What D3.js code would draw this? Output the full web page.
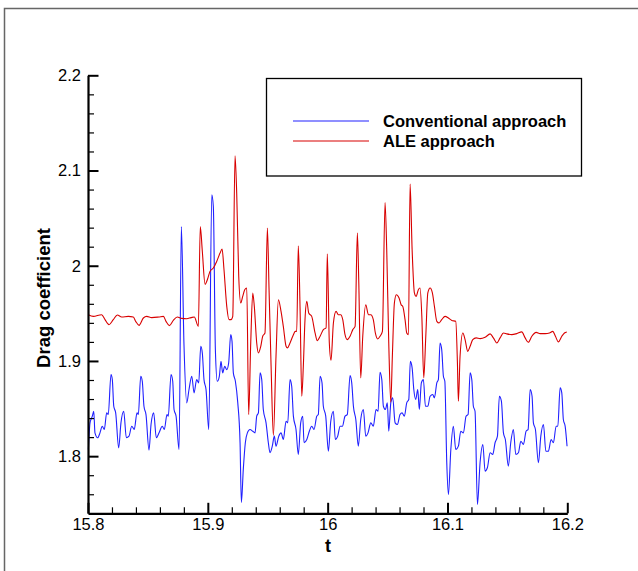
<!DOCTYPE html>
<html><head><meta charset="utf-8">
<script src="https://cdn.jsdelivr.net/npm/d3@7"></script>
<style>body{margin:0;background:#fff}svg{display:block}</style>
</head><body>
<script>
const seriesNames = ["Conventional approach", "ALE approach"];
const seriesColors = ["#2020ff", "#d80000"];
const xMajorTicks = [15.8, 15.9, 16.0, 16.1, 16.2];
const xTickLabels = ["15.8", "15.9", "16", "16.1", "16.2"];
const yMajorTicks = [1.8, 1.9, 2.0, 2.1, 2.2];
const yTickLabels = ["1.8", "1.9", "2", "2.1", "2.2"];
const xLabel = "t";
const yLabel = "Drag coefficient";

const convT = [15.8003,15.8017,15.8036,15.8048,15.8058,15.8081,15.8100,15.8119,15.8136,15.8156,15.8169,15.8192,15.8203,15.8215,15.8231,15.8256,15.8275,15.8298,15.8320,15.8342,15.8365,15.8386,15.8409,15.8420,15.8440,15.8453,15.8467,15.8484,15.8509,15.8526,15.8548,15.8570,15.8593,15.8620,15.8637,15.8659,15.8670,15.8693,15.8707,15.8718,15.8735,15.8760,15.8779,15.8801,15.8824,15.8843,15.8866,15.8885,15.8907,15.8924,15.8941,15.8954,15.8968,15.8985,15.9008,15.9033,15.9046,15.9063,15.9079,15.9096,15.9110,15.9124,15.9141,15.9158,15.9174,15.9191,15.9202,15.9213,15.9230,15.9250,15.9269,15.9280,15.9296,15.9313,15.9330,15.9352,15.9375,15.9394,15.9408,15.9422,15.9436,15.9450,15.9463,15.9486,15.9505,15.9519,15.9538,15.9555,15.9569,15.9592,15.9611,15.9630,15.9653,15.9667,15.9686,15.9700,15.9714,15.9736,15.9755,15.9775,15.9792,15.9803,15.9826,15.9847,15.9867,15.9886,15.9909,15.9922,15.9937,15.9953,15.9964,15.9984,16.0006,16.0026,16.0048,16.0064,16.0084,16.0104,16.0123,16.0145,16.0164,16.0187,16.0201,16.0215,16.0235,16.0256,16.0276,16.0298,16.0318,16.0337,16.0360,16.0381,16.0404,16.0421,16.0437,16.0452,16.0465,16.0482,16.0498,16.0510,16.0527,16.0543,16.0563,16.0582,16.0604,16.0621,16.0640,16.0660,16.0677,16.0690,16.0705,16.0719,16.0735,16.0752,16.0765,16.0782,16.0799,16.0816,16.0836,16.0855,16.0877,16.0891,16.0911,16.0924,16.0938,16.0952,16.0966,16.0978,16.0994,16.1008,16.1028,16.1049,16.1069,16.1091,16.1111,16.1133,16.1155,16.1172,16.1189,16.1203,16.1216,16.1230,16.1250,16.1272,16.1295,16.1314,16.1333,16.1356,16.1378,16.1397,16.1417,16.1433,16.1450,16.1467,16.1483,16.1508,16.1528,16.1550,16.1570,16.1592,16.1612,16.1634,16.1656,16.1673,16.1690,16.1706,16.1717,16.1734,16.1759,16.1779,16.1801,16.1821,16.1842,16.1865,16.1884,16.1907,16.1921,16.1940,16.1954,16.1967,16.1982,16.1998];
const convCd = [1.8070,1.8350,1.8420,1.8472,1.8245,1.8193,1.8245,1.8315,1.8280,1.8455,1.8437,1.8857,1.8804,1.8524,1.8455,1.8088,1.8350,1.8472,1.8193,1.8210,1.8315,1.8280,1.8455,1.8437,1.8839,1.8787,1.8524,1.8437,1.8063,1.8332,1.8455,1.8193,1.8245,1.8315,1.8280,1.8437,1.8420,1.8857,1.8787,1.8490,1.8420,1.8070,2.0412,1.9171,1.8560,1.8700,1.8839,1.8665,1.8804,1.8770,1.9154,1.9084,1.8804,1.8700,1.8280,2.0745,2.0622,1.9119,1.8787,1.8839,1.8996,1.8875,1.8944,1.8909,1.8980,1.9276,1.9206,1.8875,1.8787,1.8560,1.8141,1.7514,1.7861,1.8141,1.8245,1.8280,1.8262,1.8245,1.8420,1.8455,1.8875,1.8804,1.8490,1.8350,1.8141,1.8036,1.8105,1.8210,1.8105,1.8210,1.8245,1.8175,1.8367,1.8350,1.8804,1.8734,1.8420,1.8280,1.8018,1.8350,1.8420,1.8141,1.8175,1.8262,1.8315,1.8280,1.8420,1.8437,1.8839,1.8770,1.8524,1.8420,1.8052,1.8367,1.8472,1.8175,1.8210,1.8315,1.8315,1.8420,1.8437,1.8846,1.8770,1.8524,1.8385,1.8105,1.8385,1.8490,1.8210,1.8245,1.8350,1.8315,1.8490,1.8472,1.8881,1.8804,1.8524,1.8490,1.8560,1.8262,1.8560,1.8612,1.8350,1.8332,1.8437,1.8455,1.8420,1.8560,1.8595,1.8996,1.8927,1.8700,1.8595,1.8700,1.8490,1.8770,1.8804,1.8524,1.8524,1.8629,1.8647,1.8612,1.8770,1.8804,1.9189,1.9119,1.8839,1.8787,1.7934,1.7598,1.8070,1.8315,1.8070,1.8105,1.8262,1.8245,1.8420,1.8437,1.8875,1.8804,1.8524,1.8472,1.7493,1.7931,1.8123,1.7843,1.7878,1.8036,1.8018,1.8141,1.8210,1.8629,1.8577,1.8245,1.8175,1.7895,1.8141,1.8280,1.8018,1.8036,1.8157,1.8123,1.8262,1.8280,1.8700,1.8629,1.8350,1.8280,1.7931,1.8210,1.8332,1.8052,1.8052,1.8175,1.8141,1.8315,1.8315,1.8717,1.8665,1.8385,1.8315,1.8105];

const aleT = [15.8003,15.8044,15.8114,15.8142,15.8175,15.8211,15.8245,15.8281,15.8336,15.8378,15.8398,15.8426,15.8462,15.8490,15.8532,15.8593,15.8629,15.8651,15.8679,15.8712,15.8745,15.8782,15.8824,15.8860,15.8887,15.8921,15.8937,15.8954,15.8977,15.8996,15.9018,15.9046,15.9074,15.9102,15.9119,15.9135,15.9158,15.9177,15.9194,15.9208,15.9227,15.9241,15.9258,15.9275,15.9291,15.9308,15.9325,15.9341,15.9358,15.9375,15.9388,15.9408,15.9422,15.9442,15.9458,15.9477,15.9497,15.9511,15.9528,15.9547,15.9569,15.9589,15.9611,15.9630,15.9653,15.9664,15.9686,15.9709,15.9730,15.9742,15.9755,15.9770,15.9784,15.9797,15.9811,15.9826,15.9842,15.9867,15.9895,15.9914,15.9937,15.9964,15.9987,15.9997,16.0014,16.0028,16.0048,16.0070,16.0089,16.0109,16.0126,16.0145,16.0164,16.0187,16.0210,16.0229,16.0248,16.0260,16.0276,16.0293,16.0318,16.0340,16.0360,16.0381,16.0398,16.0418,16.0437,16.0457,16.0479,16.0493,16.0510,16.0527,16.0540,16.0557,16.0573,16.0596,16.0613,16.0627,16.0646,16.0660,16.0674,16.0688,16.0705,16.0724,16.0738,16.0757,16.0771,16.0786,16.0802,16.0819,16.0836,16.0855,16.0874,16.0891,16.0911,16.0930,16.0952,16.0980,16.1008,16.1036,16.1069,16.1083,16.1091,16.1105,16.1128,16.1147,16.1169,16.1189,16.1211,16.1239,16.1272,16.1314,16.1356,16.1383,16.1412,16.1439,16.1467,16.1495,16.1537,16.1578,16.1620,16.1648,16.1675,16.1704,16.1740,16.1773,16.1815,16.1851,16.1879,16.1901,16.1926,16.1954,16.1976,16.1996];
const aleCd = [1.9486,1.9468,1.9486,1.9434,1.9381,1.9434,1.9483,1.9462,1.9468,1.9462,1.9416,1.9374,1.9451,1.9468,1.9455,1.9462,1.9468,1.9416,1.9371,1.9426,1.9462,1.9447,1.9444,1.9455,1.9462,1.9363,2.0412,2.0152,1.9806,1.9853,1.9940,1.9976,2.0045,2.0133,2.0175,1.9958,1.9573,1.9434,1.9434,1.9468,2.1154,2.0762,1.9888,1.9609,1.9678,1.9748,1.9766,1.8437,1.9189,1.9714,1.9573,1.9189,1.9084,1.9154,1.9259,1.9294,2.0395,1.9748,1.8944,1.8217,1.9049,1.9643,1.9521,1.9363,1.9154,1.9137,1.9189,1.9259,1.9311,1.9311,2.0210,1.9539,1.8629,1.8944,1.9434,1.9626,1.9504,1.9468,1.9294,1.9213,1.9259,1.9329,1.9347,2.0126,1.9189,1.9007,1.9399,1.9521,1.9486,1.9486,1.9434,1.9276,1.9224,1.9259,1.9329,1.9363,2.0343,1.9819,1.8822,1.9259,1.9591,1.9486,1.9486,1.9434,1.9294,1.9231,1.9259,1.9311,2.0664,2.0168,1.9189,1.8566,1.9049,1.9609,1.9696,1.9661,1.9591,1.9573,1.9434,1.9294,1.9276,2.0857,2.0168,1.9714,1.9678,1.9748,1.9766,1.9468,1.8822,1.9259,1.9714,1.9766,1.9714,1.9573,1.9416,1.9399,1.9434,1.9468,1.9451,1.9426,1.9416,1.8980,1.8577,1.9049,1.9294,1.9224,1.9101,1.9154,1.9224,1.9242,1.9234,1.9248,1.9284,1.9242,1.9189,1.9242,1.9294,1.9284,1.9276,1.9287,1.9305,1.9242,1.9196,1.9259,1.9300,1.9287,1.9287,1.9294,1.9311,1.9259,1.9200,1.9259,1.9294,1.9305];

const W = 638, H = 571;
const FONT = "'Liberation Sans', Arial, Helvetica, sans-serif";
const svg = d3.select("body").append("svg").attr("width", W).attr("height", H);
svg.append("rect").attr("width", W).attr("height", H).attr("fill", "#fff");

// outer frame (top and left visible)
svg.append("path").attr("d", `M4.5,${H} V8.5 H${W}`).attr("fill", "none").attr("stroke", "#666").attr("stroke-width", 1.5);

const x = d3.scaleLinear().domain([15.8, 16.2]).range([88, 567.3]);
const y = d3.scaleLinear().domain([1.74, 2.2]).range([513.3, 75.3]);

const xMinor = d3.range(15.8, 16.2001, 0.02).filter(v => !xMajorTicks.some(m => Math.abs(m - v) < 1e-6));
const yMinor = d3.range(1.76, 2.2001, 0.02).filter(v => !yMajorTicks.some(m => Math.abs(m - v) < 1e-6));

// data lines
const series = [
  {name: seriesNames[0], color: seriesColors[0], data: convT.map((t, i) => [t, convCd[i]])},
  {name: seriesNames[1], color: seriesColors[1], data: aleT.map((t, i) => [t, aleCd[i]])}
];
const line = d3.line().x(d => x(d[0])).y(d => y(d[1])).curve(d3.curveMonotoneX);
svg.append("g").selectAll("path").data(series).join("path")
  .attr("d", d => line(d.data)).attr("fill", "none")
  .attr("stroke", d => d.color).attr("stroke-width", 1.1).attr("stroke-linejoin", "round");

// axes
const gx = svg.append("g").attr("transform", `translate(0,${y.range()[0]})`);
gx.call(d3.axisBottom(x).tickValues(xMinor).tickSize(-6).tickSizeOuter(0).tickFormat(""));
gx.call(g => g.select(".domain").remove());
gx.selectAll("line").attr("stroke", "#000").attr("stroke-width", 1.2);
const gx2 = svg.append("g").attr("transform", `translate(0,${y.range()[0]})`);
gx2.call(d3.axisBottom(x).tickValues(xMajorTicks).tickSize(-10.5).tickSizeOuter(0).tickPadding(5)
  .tickFormat((d, i) => xTickLabels[i]));
gx2.select(".domain").attr("stroke", "#000").attr("stroke-width", 2.2);
gx2.selectAll("line").attr("stroke", "#000").attr("stroke-width", 2);
gx2.selectAll("text").attr("font-family", FONT).attr("font-size", 16.5).attr("fill", "#000");

const gy = svg.append("g").attr("transform", `translate(${x.range()[0]},0)`);
gy.call(d3.axisLeft(y).tickValues(yMinor).tickSize(-6).tickSizeOuter(0).tickFormat(""));
gy.call(g => g.select(".domain").remove());
gy.selectAll("line").attr("stroke", "#000").attr("stroke-width", 1.2);
const gy2 = svg.append("g").attr("transform", `translate(${x.range()[0]},0)`);
gy2.call(d3.axisLeft(y).tickValues(yMajorTicks).tickSize(-10.5).tickSizeOuter(0).tickPadding(7)
  .tickFormat((d, i) => yTickLabels[i]));
gy2.select(".domain").attr("stroke", "#000").attr("stroke-width", 2.2);
gy2.selectAll("line").attr("stroke", "#000").attr("stroke-width", 2);
gy2.selectAll("text").attr("font-family", FONT).attr("font-size", 16.5).attr("fill", "#000");

// axis titles
svg.append("text").attr("x", 328).attr("y", 551.5).attr("text-anchor", "middle")
  .attr("font-family", FONT).attr("font-weight", "bold").attr("font-size", 18).text(xLabel);
svg.append("text").attr("transform", "translate(49.5,298) rotate(-90)").attr("text-anchor", "middle")
  .attr("font-family", FONT).attr("font-weight", "bold").attr("font-size", 18.5).text(yLabel);

// legend
const lg = svg.append("g");
lg.append("rect").attr("x", 266.5).attr("y", 78.5).attr("width", 315).attr("height", 97.5)
  .attr("fill", "#fff").attr("stroke", "#000").attr("stroke-width", 1.3);
series.forEach((s, i) => {
  const ly = 121 + i * 20;
  lg.append("line").attr("x1", 293).attr("x2", 369).attr("y1", ly).attr("y2", ly)
    .attr("stroke", s.color).attr("stroke-width", 1.2);
  lg.append("text").attr("x", 383).attr("y", ly + 5.5).attr("font-family", FONT)
    .attr("font-weight", "bold").attr("font-size", 16.5).attr("fill", "#000").text(s.name);
});
</script>
</body></html>
